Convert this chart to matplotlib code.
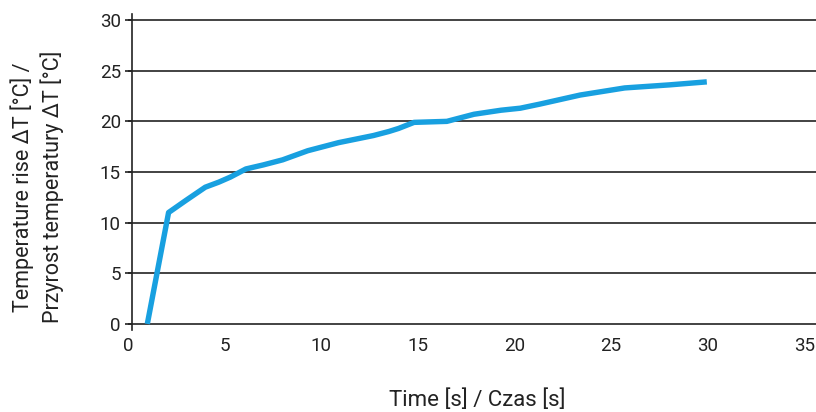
import matplotlib
matplotlib.use("Agg")
import matplotlib.pyplot as plt

plt.rcParams['font.family'] = ['Roboto', 'DejaVu Sans']

# time [s] and temperature rise [°C]
time = [1.0, 2.1, 3.0, 4.0, 4.7, 5.3, 6.1, 7.0, 8.0, 9.3, 10.9, 12.7, 13.5, 14.0, 14.8, 16.5, 17.9, 19.3, 20.3, 21.3, 23.4, 25.7, 28.0, 29.95]
rise = [0.0, 11.0, 12.2, 13.5, 14.0, 14.5, 15.3, 15.7, 16.2, 17.1, 17.9, 18.6, 19.0, 19.3, 19.9, 20.0, 20.7, 21.1, 21.3, 21.7, 22.6, 23.3, 23.6, 23.9]

xticks = [0, 5, 10, 15, 20, 25, 30, 35]
yticks = [0, 5, 10, 15, 20, 25, 30]

fig = plt.figure(figsize=(8.16, 4.12), dpi=100)
ax = fig.add_axes([128/816, (412-330)/412, (816-128)/816, (330-14)/412])

ax.plot(time, rise, color='#18a0e0', lw=3.9, solid_capstyle='butt', zorder=3)

ax.set_xlim(0, 35.6)
ax.set_ylim(-0.6, 30.6)
ax.set_xticks(xticks)
ax.set_yticks(yticks)
ax.grid(axis='y', color='#222222', lw=1.2)
ax.set_axisbelow(True)

for s in ['top', 'right', 'bottom']:
    ax.spines[s].set_visible(False)
ax.spines['left'].set_position(('data', 0.2))
ax.spines['left'].set_color('#222222')
ax.spines['left'].set_linewidth(1.2)

ax.tick_params(axis='x', length=0, pad=5, labelsize=13.5, colors='#222222')
ax.tick_params(axis='y', length=5, width=1.2, pad=3, labelsize=13.5, colors='#222222')

fig.text(477/816, 12/412, 'Time [s] / Czas [s]', ha='center', va='center', fontsize=16, color='#222222')
fig.text(37/816, (412-187)/412, 'Temperature rise ΔT [°C] /\nPrzyrost temperatury ΔT [°C]',
         ha='center', va='center', rotation=90, multialignment='center',
         fontsize=15.5, linespacing=1.35, color='#222222')

fig.savefig('out.png', dpi=100)
